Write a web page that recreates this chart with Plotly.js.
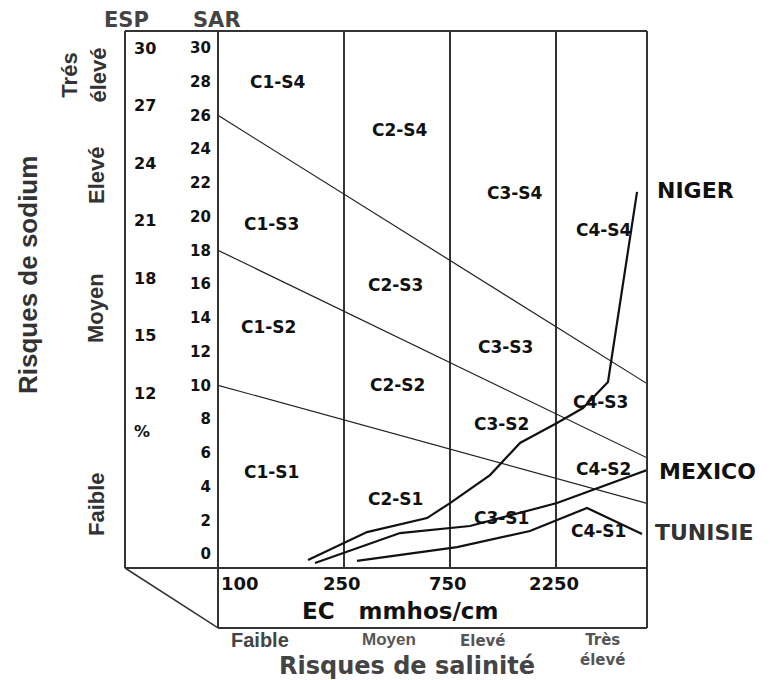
<!DOCTYPE html>
<html><head><meta charset="utf-8">
<script src="https://cdn.plot.ly/plotly-3.0.1.min.js"></script>
<style>html,body{margin:0;padding:0;background:#fff}</style>
</head><body><div id="chart" style="width:770px;height:680px"></div>
<script>
// ---- data ----
const ecLabels = ['100', '250', '750', '2250'];
const ecPos = [0, 1.189, 2.189, 3.189];       // class boundaries on the EC position axis
const xMax = 4.047;
const sarTicks = [0, 2, 4, 6, 8, 10, 12, 14, 16, 18, 20, 22, 24, 26, 28, 30];
const espTicks = [30, 27, 24, 21, 18, 15, 12, 10];
const espText = ['30', '27', '24', '21', '18', '15', '12', '%'];

const boundaryLeftSAR = [26, 18, 10];
const boundaryRightSAR = [10.1, 5.7, 3.0];

const nigerX = [0.849, 1.406, 1.972, 2.189, 2.566, 2.849, 3.198, 3.443, 3.679, 3.953];
const nigerY = [-0.36, 1.30, 2.13, 3.02, 4.68, 6.58, 7.77, 8.65, 10.20, 21.46];
const mexicoX = [0.915, 1.717, 2.377, 3.198, 4.047];
const mexicoY = [-0.53, 1.24, 1.66, 3.02, 4.98];
const tunisieX = [1.311, 2.255, 2.943, 3.481, 4.000];
const tunisieY = [-0.41, 0.41, 1.36, 2.73, 1.19];

const zoneNames = ['C1-S4','C2-S4','C3-S4','C4-S4','C1-S3','C2-S3','C1-S2','C3-S3',
                   'C2-S2','C4-S3','C3-S2','C1-S1','C4-S2','C2-S1','C3-S1','C4-S1'];
const zoneX = [0.566, 1.717, 2.802, 3.642, 0.509, 1.670, 0.472, 2.708,
               1.689, 3.604, 2.679, 0.509, 3.632, 1.670, 2.670, 3.594];
const zoneY = [27.98, 25.13, 21.40, 19.21, 19.56, 15.95, 13.46, 12.27,
               10.02, 9.01, 7.71, 4.86, 5.04, 3.26, 2.13, 1.36];

const seriesNames = ['NIGER', 'MEXICO', 'TUNISIE'];

// ---- styles ----
const DJ = 'DejaVu Sans, Verdana, sans-serif';
const LS = 'Liberation Sans, Arial, sans-serif';
const frame = {color: '#333', width: 2};

const traces = [];
for (let i = 0; i < boundaryLeftSAR.length; i++) {
  traces.push({x: [0, xMax], y: [boundaryLeftSAR[i], boundaryRightSAR[i]], mode: 'lines',
    line: {color: '#222', width: 1.2}, hoverinfo: 'skip', showlegend: false});
}
[[nigerX, nigerY], [mexicoX, mexicoY], [tunisieX, tunisieY]].forEach(function (s, i) {
  traces.push({x: s[0], y: s[1], mode: 'lines', name: seriesNames[i],
    line: {color: '#111', width: 2.2}, showlegend: false});
});
traces.push({x: espTicks.map(() => 0), y: espTicks, yaxis: 'y2', mode: 'markers',
  marker: {opacity: 0}, hoverinfo: 'skip', showlegend: false});

const annotations = [];
zoneNames.forEach(function (n, i) {
  annotations.push({x: zoneX[i], y: zoneY[i], xref: 'x', yref: 'y', text: n, showarrow: false,
    xanchor: 'center', yanchor: 'middle',
    font: {family: DJ, size: 17, color: '#111', weight: 'bold'}});
});
ecLabels.forEach(function (t, i) {
  annotations.push({x: ecPos[i], y: -0.028, xref: 'x', yref: 'paper', text: t, showarrow: false,
    xanchor: i === 0 ? 'left' : 'center', yanchor: 'middle', xshift: i === 0 ? 1 : -2,
    font: {family: DJ, size: 18, color: '#111', weight: 'bold'}});
});
function pa(text, x, y, font, extra) {
  annotations.push(Object.assign({x: x, y: y, xref: 'paper', yref: 'paper', text: text,
    showarrow: false, xanchor: 'center', yanchor: 'middle', font: font}, extra || {}));
}
// right labels
pa('NIGER', 1.0153, 0.7039, {family: DJ, size: 22, color: '#111', weight: 'bold'}, {xanchor: 'left'});
pa('MEXICO', 1.0192, 0.1806, {family: DJ, size: 22, color: '#111', weight: 'bold'}, {xanchor: 'left'});
pa('TUNISIE', 1.0115, 0.0652, {family: DJ, size: 22, color: '#333', weight: 'bold'}, {xanchor: 'left'});
// headers
pa('ESP', 0.0038, 1.0205, {family: DJ, size: 21, color: '#444', weight: 'bold'});
pa('SAR', 0.1762, 1.0205, {family: DJ, size: 21, color: '#444', weight: 'bold'});
// left rotated labels
pa('Risques de sodium', -0.1858, 0.5456, {family: LS, size: 26, color: '#333', weight: 'bold'}, {textangle: -90});
pa('Trés<br>élevé', -0.0776, 0.918, {family: LS, size: 22, color: '#333', weight: 'bold'}, {textangle: -90});
pa('Elevé', -0.0556, 0.7318, {family: LS, size: 22, color: '#333', weight: 'bold'}, {textangle: -90});
pa('Moyen', -0.0556, 0.4842, {family: LS, size: 22, color: '#333', weight: 'bold'}, {textangle: -90});
pa('Faible', -0.0536, 0.1192, {family: LS, size: 22, color: '#333', weight: 'bold'}, {textangle: -90});
// bottom labels
pa('EC&nbsp;&nbsp;&nbsp;mmhos/cm', 0.5268, -0.0801, {family: DJ, size: 23, color: '#111', weight: 'bold'});
pa('Faible', 0.2586, -0.1341, {family: LS, size: 20, color: '#444', weight: 'bold'});
pa('Moyen', 0.5057, -0.1323, {family: LS, size: 17, color: '#555', weight: 'bold'});
pa('Elevé', 0.6858, -0.1360, {family: DJ, size: 15, color: '#555', weight: 'bold'});
pa('Très<br>élevé', 0.9138, -0.1527, {family: DJ, size: 15, color: '#555', weight: 'bold'});
pa('Risques de salinité', 0.5402, -0.1825, {family: DJ, size: 24, color: '#444', weight: 'bold'});

// frame in paper coordinates (plot paper spans the ESP column to the right edge)
const xs = 0.17816;          // SAR axis line
const yb = -0.1117;          // bottom of EC box
const shapes = [
  {type: 'line', xref: 'paper', yref: 'paper', x0: 0, x1: 1, y0: 1, y1: 1, line: frame},
  {type: 'line', xref: 'paper', yref: 'paper', x0: 0, x1: 1, y0: 0, y1: 0, line: frame},
  {type: 'line', xref: 'paper', yref: 'paper', x0: 0, x1: 0, y0: 0, y1: 1, line: frame},
  {type: 'line', xref: 'paper', yref: 'paper', x0: xs, x1: xs, y0: yb, y1: 1, line: frame},
  {type: 'line', xref: 'paper', yref: 'paper', x0: 1, x1: 1, y0: yb, y1: 1, line: frame},
  {type: 'line', xref: 'paper', yref: 'paper', x0: xs, x1: 1, y0: yb, y1: yb, line: frame},
  {type: 'line', xref: 'paper', yref: 'paper', x0: 0, x1: xs, y0: 0, y1: yb, line: {color: '#333', width: 1.5}}
];

const layout = {
  width: 770, height: 680,
  margin: {l: 125, r: 123, t: 31, b: 112, pad: 0},
  paper_bgcolor: '#fff', plot_bgcolor: '#fff',
  showlegend: false,
  xaxis: {domain: [xs, 1], range: [0, xMax], tickvals: ecPos.slice(1), showticklabels: false,
    ticks: '', showgrid: true, gridcolor: '#333', gridwidth: 2, zeroline: false, showline: false,
    fixedrange: true},
  yaxis: {range: [-0.83, 31.0], tickvals: sarTicks, ticktext: sarTicks.map(String), ticks: '',
    ticklabelstandoff: 6, showgrid: false, zeroline: false, showline: false,
    tickfont: {family: DJ, size: 15, color: '#111', weight: 'bold'}, fixedrange: true},
  yaxis2: {overlaying: 'y', anchor: 'free', position: 0, side: 'right',
    range: [2.87, 30.89], tickvals: espTicks, ticktext: espText, ticks: '',
    ticklabelstandoff: 8, showgrid: false, zeroline: false, showline: false,
    tickfont: {family: DJ, size: 16, color: '#111', weight: 'bold'}, fixedrange: true},
  annotations: annotations,
  shapes: shapes
};

Plotly.newPlot('chart', traces, layout, {displayModeBar: false, staticPlot: true});
</script>
</body></html>
